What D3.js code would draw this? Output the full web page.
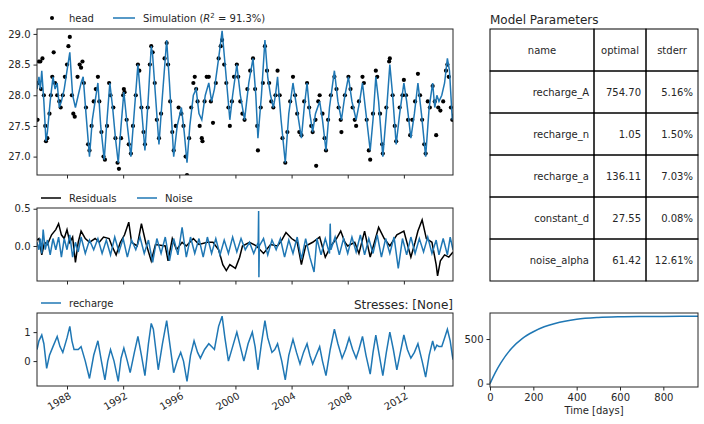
<!DOCTYPE html>
<html>
<head>
<meta charset="utf-8">
<script src="https://cdnjs.cloudflare.com/ajax/libs/d3/7.8.5/d3.min.js"></script>
<style>
  body { margin: 0; background: #fff; }
  text { font-family: "DejaVu Sans", sans-serif; fill: #262626; }
  .tick text { font-size: 10px; }
  .tick line { stroke: #262626; }
  .domain { stroke: #262626; }
</style>
</head>
<body>
<div id="chart"></div>
<script>
// observed heads [decimal year, head]
var heads = [
  [1985.9,27.6],[1985.95,28.2],[1986.0,28.55],[1986.1,28.55],[1986.15,28.1],[1986.25,28.6],[1986.35,28.0],[1986.45,27.5],[1986.5,27.25],[1986.6,27.3],
  [1986.75,27.7],[1986.85,28.0],[1986.95,28.3],[1987.05,28.7],[1987.15,28.2],[1987.3,28.0],[1987.45,27.9],[1987.55,27.8],[1987.7,28.0],[1987.85,28.3],
  [1988.0,28.5],[1988.1,28.8],[1988.2,28.95],[1988.35,28.0],[1988.45,27.7],[1988.55,27.65],[1988.75,28.3],[1988.9,28.5],[1989.0,28.45],[1989.1,28.55],
  [1989.2,28.2],[1989.35,27.8],[1989.5,27.2],[1989.6,27.1],[1989.75,27.5],[1989.9,27.9],[1990.05,28.1],[1990.2,28.3],[1990.3,27.9],[1990.45,27.4],
  [1990.6,27.0],[1990.7,26.95],[1990.85,27.5],[1991.0,28.2],[1991.1,28.0],[1991.3,27.8],[1991.45,27.3],[1991.6,26.9],[1991.7,26.8],[1991.85,27.3],
  [1992.0,28.0],[1992.05,28.1],[1992.1,28.05],[1992.25,27.6],[1992.4,27.2],[1992.55,27.05],[1992.7,27.5],[1992.9,28.0],[1993.05,28.5],[1993.15,28.4],
  [1993.3,27.8],[1993.45,27.4],[1993.55,27.2],[1993.75,27.8],[1993.9,28.5],[1994.0,28.8],[1994.1,28.7],[1994.25,28.2],[1994.4,27.6],[1994.55,27.3],
  [1994.7,27.7],[1994.95,28.6],[1995.1,28.85],[1995.2,28.5],[1995.35,27.9],[1995.5,27.4],[1995.6,27.1],[1995.75,27.5],[1995.95,27.8],[1996.15,27.7],
  [1996.3,27.5],[1996.45,27.0],[1996.55,26.7],[1996.7,27.3],[1996.85,27.8],[1997.0,28.2],[1997.1,28.3],[1997.2,28.1],[1997.3,27.9],[1997.45,27.5],
  [1997.6,27.3],[1997.65,27.25],[1997.8,27.9],[1997.95,28.3],[1998.1,28.3],[1998.25,27.9],[1998.4,27.55],[1998.6,28.2],[1998.8,28.6],[1998.95,28.8],
  [1999.05,28.9],[1999.2,28.5],[1999.35,28.2],[1999.5,27.8],[1999.6,27.5],[1999.75,27.9],[1999.9,28.3],[2000.1,28.5],[2000.2,28.3],[2000.35,27.9],
  [2000.5,27.7],[2000.65,27.6],[2000.85,28.1],[2001.05,28.4],[2001.25,28.6],[2001.4,28.1],[2001.55,27.5],[2001.6,27.1],[2001.8,27.8],[2001.95,28.2],
  [2002.1,28.8],[2002.25,28.4],[2002.4,28.2],[2002.55,27.9],[2002.7,27.8],[2002.85,28.0],[2003.0,28.4],[2003.15,28.0],[2003.35,27.3],[2003.55,26.9],
  [2003.7,27.4],[2003.9,27.9],[2004.1,28.3],[2004.25,28.0],[2004.4,27.7],[2004.55,27.4],[2004.7,27.35],[2004.9,27.9],[2005.1,28.2],[2005.25,27.8],
  [2005.4,27.5],[2005.5,27.4],[2005.7,27.6],[2005.75,26.85],[2005.9,27.9],[2006.0,28.0],[2006.2,27.7],[2006.35,27.3],[2006.45,27.1],[2006.6,27.6],
  [2006.8,28.0],[2007.05,28.3],[2007.2,28.1],[2007.35,27.8],[2007.5,27.6],[2007.55,27.4],[2007.8,28.0],[2008.05,28.3],[2008.2,28.1],[2008.35,27.8],
  [2008.5,27.6],[2008.6,27.5],[2008.8,27.9],[2009.05,28.3],[2009.15,28.2],[2009.35,27.6],[2009.5,27.1],[2009.6,26.95],[2009.8,27.7],[2010.0,28.4],
  [2010.1,28.3],[2010.3,27.7],[2010.45,27.2],[2010.5,27.05],[2010.75,27.8],[2010.95,28.55],[2011.0,28.6],[2011.2,28.0],[2011.35,27.5],[2011.45,27.25],
  [2011.7,27.8],[2011.9,28.0],[2012.0,28.25],[2012.15,28.0],[2012.3,27.6],[2012.45,27.35],[2012.6,27.6],[2012.8,27.9],[2013.0,28.35],[2013.15,28.0],
  [2013.3,27.6],[2013.45,27.2],[2013.55,27.05],[2013.7,27.9],[2013.85,27.8],[2014.05,28.15],[2014.2,27.9],[2014.3,27.35],[2014.45,27.8],[2014.6,27.75],
  [2014.8,27.9],[2015.0,28.4],[2015.1,28.5],[2015.2,28.3],[2015.35,27.8],[2015.45,27.6]
];

// simulated heads
var simulation = [
  [1985.86,28.1],[1986.0,28.3],[1986.1,28.1],[1986.2,28.4],[1986.35,27.9],[1986.5,27.25],[1986.6,27.4],[1986.8,27.9],[1987.0,28.3],[1987.15,28.1],
  [1987.3,28.2],[1987.45,27.8],[1987.6,27.9],[1987.8,28.1],[1988.0,28.4],[1988.2,28.7],[1988.4,28.0],[1988.6,27.8],[1988.8,28.0],[1989.0,28.2],
  [1989.15,28.3],[1989.35,27.7],[1989.6,27.0],[1989.8,27.6],[1990.0,27.9],[1990.2,28.2],[1990.4,27.5],[1990.65,26.95],[1990.85,27.6],[1991.05,28.2],
  [1991.25,27.8],[1991.45,27.3],[1991.65,26.9],[1991.85,27.5],[1992.05,28.05],[1992.25,27.6],[1992.55,27.0],[1992.75,27.6],[1993.05,28.5],[1993.3,27.8],
  [1993.55,27.1],[1993.8,28.0],[1994.0,28.8],[1994.1,28.65],[1994.3,28.0],[1994.55,27.2],[1994.8,28.0],[1995.1,28.9],[1995.3,28.2],[1995.6,27.0],
  [1995.85,27.5],[1996.15,27.8],[1996.35,27.4],[1996.55,26.9],[1996.75,27.5],[1997.0,28.0],[1997.2,28.1],[1997.4,27.7],[1997.6,27.6],[1997.85,28.0],
  [1998.1,28.2],[1998.3,27.9],[1998.5,28.1],[1998.8,28.6],[1999.05,29.05],[1999.3,28.4],[1999.6,27.6],[1999.8,28.0],[2000.1,28.5],[2000.35,28.0],
  [2000.65,27.6],[2000.95,28.2],[2001.25,28.6],[2001.45,28.0],[2001.6,27.3],[2001.85,28.0],[2002.1,28.9],[2002.3,28.3],[2002.5,28.0],[2002.7,27.8],
  [2002.85,28.0],[2003.0,28.3],[2003.25,27.6],[2003.55,26.9],[2003.8,27.7],[2004.1,28.2],[2004.3,27.9],[2004.5,27.6],[2004.7,27.3],[2004.9,27.8],
  [2005.1,28.2],[2005.3,27.7],[2005.5,27.4],[2005.7,27.7],[2006.0,27.9],[2006.2,27.6],[2006.45,27.1],[2006.7,27.8],[2007.05,28.4],[2007.3,27.9],
  [2007.55,27.6],[2007.8,28.0],[2008.05,28.3],[2008.3,27.9],[2008.6,27.6],[2008.85,27.9],[2009.05,28.2],[2009.3,27.7],[2009.6,27.1],[2009.8,27.6],
  [2010.0,28.3],[2010.2,27.9],[2010.5,27.0],[2010.75,27.7],[2011.0,28.5],[2011.2,28.0],[2011.45,27.2],[2011.7,27.7],[2012.0,28.2],[2012.2,27.9],
  [2012.5,27.3],[2012.75,27.7],[2013.0,28.2],[2013.25,27.7],[2013.55,27.0],[2013.8,27.8],[2014.05,28.2],[2014.2,27.8],[2014.35,28.0],[2014.5,27.9],
  [2014.7,28.0],[2014.9,28.2],[2015.1,28.6],[2015.25,28.4],[2015.45,27.6],[2015.5,27.7]
];

var residuals = [
  [1985.86,0.08],[1986.0,0.1],[1986.2,-0.12],[1986.4,0.05],[1986.6,0.02],[1986.9,0.15],[1987.2,0.22],[1987.4,0.3],[1987.6,0.15],[1987.8,0.1],
  [1988.0,0.22],[1988.2,0.05],[1988.4,0.12],[1988.6,-0.22],[1988.8,0.05],[1989.0,0.2],[1989.3,0.1],[1989.6,0.05],[1990.0,0.1],[1990.3,0.05],
  [1990.6,0.12],[1991.0,0.1],[1991.2,0.0],[1991.5,-0.12],[1991.8,0.05],[1992.1,0.15],[1992.4,0.32],[1992.6,0.05],[1993.0,0.0],[1993.3,0.3],
  [1993.6,0.05],[1994.0,-0.2],[1994.3,0.02],[1995.0,0.0],[1995.2,-0.2],[1995.5,0.1],[1995.8,-0.05],[1996.2,0.05],[1996.5,0.0],[1997.0,0.1],
  [1997.4,0.02],[1998.0,0.05],[1998.4,0.05],[1998.8,-0.05],[1999.1,-0.25],[1999.35,-0.33],[1999.6,-0.25],[2000.0,-0.3],[2000.3,-0.15],[2000.5,0.0],
  [2001.0,0.05],[2001.5,0.0],[2002.0,-0.1],[2002.5,0.02],[2003.0,0.0],[2003.3,0.08],[2003.6,0.18],[2004.0,0.1],[2004.4,0.05],[2004.7,-0.25],
  [2005.0,0.0],[2005.5,0.05],[2006.0,0.12],[2006.4,-0.15],[2006.8,0.0],[2007.2,0.1],[2007.5,0.2],[2007.8,0.05],[2008.0,0.0],[2008.5,0.05],
  [2008.8,-0.1],[2009.2,0.2],[2009.6,-0.15],[2009.9,0.05],[2010.2,0.25],[2010.6,0.1],[2011.0,0.0],[2011.5,0.15],[2012.0,0.2],[2012.5,-0.15],
  [2012.8,0.05],[2013.0,0.2],[2013.3,0.35],[2013.6,0.1],[2014.0,0.05],[2014.3,-0.25],[2014.4,-0.4],[2014.6,-0.2],[2014.9,-0.12],[2015.2,-0.15],[2015.5,-0.08]
];

var noise = [
  [1985.86,0.05],[1986.0,-0.05],[1986.1,0.1],[1986.2,-0.1],[1986.3,0.22],[1986.45,-0.05],[1986.6,0.08],[1986.8,-0.12],[1987.0,0.1],[1987.2,-0.05],
  [1987.4,0.12],[1987.6,-0.15],[1987.8,0.1],[1988.0,-0.05],[1988.2,0.15],[1988.4,-0.15],[1988.6,0.05],[1988.8,-0.08],[1989.0,0.12],[1989.3,-0.1],
  [1989.6,0.08],[1989.9,-0.05],[1990.2,0.1],[1990.5,-0.1],[1990.8,0.08],[1991.1,-0.12],[1991.4,0.12],[1991.7,-0.08],[1992.0,0.1],[1992.3,-0.15],
  [1992.6,0.08],[1992.9,-0.05],[1993.2,0.12],[1993.5,-0.1],[1993.8,0.08],[1994.1,-0.22],[1994.4,0.1],[1994.7,-0.1],[1995.0,0.12],[1995.3,-0.2],
  [1995.6,0.1],[1995.9,-0.12],[1996.2,0.25],[1996.5,-0.15],[1996.8,0.12],[1997.1,-0.1],[1997.4,0.1],[1997.7,-0.15],[1998.0,0.12],[1998.3,-0.1],
  [1998.6,0.1],[1998.9,-0.12],[1999.2,0.08],[1999.5,-0.1],[1999.8,0.12],[2000.1,-0.08],[2000.4,0.1],[2000.7,-0.05],[2001.0,0.05],[2001.3,-0.1],
  [2001.62,0.05],[2001.65,0.47],[2001.67,-0.42],[2001.7,0.0],[2002.0,0.1],[2002.3,-0.12],[2002.6,0.08],[2002.9,-0.05],[2003.2,0.1],[2003.5,-0.15],
  [2003.8,0.08],[2004.1,-0.1],[2004.4,0.12],[2004.7,-0.18],[2005.0,0.1],[2005.3,-0.15],[2005.6,-0.35],[2005.8,0.1],[2006.1,-0.12],[2006.4,0.1],
  [2006.7,-0.1],[2006.75,0.3],[2006.8,-0.05],[2007.1,0.12],[2007.4,-0.12],[2007.7,0.1],[2008.0,-0.1],[2008.3,0.12],[2008.6,-0.08],[2008.9,0.15],
  [2009.2,-0.12],[2009.5,0.1],[2009.8,-0.1],[2010.1,0.15],[2010.4,-0.15],[2010.7,0.1],[2011.0,-0.1],[2011.3,0.12],[2011.6,-0.3],[2011.9,0.1],
  [2012.2,-0.12],[2012.5,0.12],[2012.8,-0.1],[2013.1,0.1],[2013.4,-0.08],[2013.7,0.12],[2014.0,-0.1],[2014.3,0.08],[2014.5,-0.12],[2014.8,0.1],
  [2015.1,-0.12],[2015.3,0.12],[2015.5,-0.05]
];

var recharge = [
  [1985.86,0.4],[1986.0,0.7],[1986.2,0.9],[1986.35,0.6],[1986.55,-0.25],[1986.75,0.2],[1987.0,0.5],[1987.3,0.85],[1987.5,0.5],[1987.7,0.3],
  [1988.0,0.8],[1988.2,1.2],[1988.35,0.7],[1988.5,0.4],[1988.8,0.4],[1989.0,0.5],[1989.3,0.0],[1989.6,-0.6],[1989.9,0.2],[1990.2,0.7],
  [1990.45,0.0],[1990.7,-0.65],[1990.9,0.0],[1991.1,0.4],[1991.35,0.0],[1991.65,-0.7],[1991.85,0.1],[1992.05,0.45],[1992.3,0.0],[1992.5,-0.4],
  [1992.8,0.3],[1993.05,0.85],[1993.3,0.2],[1993.55,-0.5],[1993.8,0.6],[1994.0,1.3],[1994.15,1.1],[1994.5,-0.3],[1994.8,0.6],[1995.1,1.4],
  [1995.35,0.5],[1995.6,-0.4],[1995.85,0.0],[1996.1,0.3],[1996.3,0.0],[1996.55,-0.7],[1996.8,0.2],[1997.05,0.7],[1997.3,0.3],[1997.5,0.1],
  [1997.8,0.4],[1998.1,0.6],[1998.3,0.5],[1998.5,0.4],[1998.8,1.2],[1999.05,1.55],[1999.25,0.8],[1999.5,0.0],[1999.8,0.5],[2000.1,1.0],
  [2000.35,0.5],[2000.6,0.0],[2000.9,0.6],[2001.2,1.0],[2001.4,0.5],[2001.6,-0.3],[2001.85,0.6],[2002.1,1.4],[2002.3,0.8],[2002.6,0.3],
  [2002.8,0.4],[2003.0,0.6],[2003.3,0.0],[2003.55,-0.65],[2003.8,0.2],[2004.1,0.75],[2004.35,0.3],[2004.6,-0.1],[2004.85,0.3],[2005.1,0.6],
  [2005.3,0.2],[2005.5,-0.1],[2005.75,0.2],[2006.0,0.5],[2006.2,0.0],[2006.45,-0.5],[2006.75,0.4],[2007.05,1.1],[2007.3,0.6],[2007.6,0.1],
  [2007.85,0.4],[2008.1,0.8],[2008.35,0.4],[2008.6,0.1],[2008.8,0.4],[2009.05,0.85],[2009.3,0.2],[2009.6,-0.45],[2009.8,0.3],[2010.0,0.9],
  [2010.25,0.2],[2010.5,-0.5],[2010.75,0.3],[2011.0,1.0],[2011.25,0.4],[2011.5,-0.3],[2011.75,0.3],[2012.0,0.9],[2012.25,0.4],[2012.5,0.1],
  [2012.75,0.3],[2013.0,0.6],[2013.3,0.0],[2013.55,-0.55],[2013.8,0.2],[2014.05,0.7],[2014.2,0.4],[2014.35,0.55],[2014.5,0.5],[2014.7,0.5],
  [2014.9,0.8],[2015.1,1.1],[2015.3,0.7],[2015.45,0.2],[2015.5,0.05]
];

var yearTicks = [1988, 1992, 1996, 2000, 2004, 2008, 2012];

// step response of recharge [days, value]
var stepDays = [0, 25, 50, 100, 150, 200, 250, 300, 400, 500, 600, 700, 800, 960];
var stepVals = [0, 126, 232, 397, 508, 582, 637, 675, 722, 742, 750, 753, 754, 754.7];

var paramNames = ["recharge_A", "recharge_n", "recharge_a", "constant_d", "noise_alpha"];
var paramOptimal = ["754.70", "1.05", "136.11", "27.55", "61.42"];
var paramStderr = ["5.16%", "1.50%", "7.03%", "0.08%", "12.61%"];

var blue = "#1f77b4";

function toDate(y) {
  var yr = Math.floor(y);
  var start = new Date(yr, 0, 1);
  return new Date(start.getTime() + (y - yr) * 365.25 * 86400000);
}

var svg = d3.select("#chart").append("svg")
  .attr("width", 704).attr("height", 424);

var x = d3.scaleTime()
  .domain([toDate(1985.86), toDate(2015.5)])
  .range([37, 453]);

function frame(g, top, bottom) {
  g.append("rect").attr("x", 37).attr("y", top)
    .attr("width", 416).attr("height", bottom - top)
    .attr("fill", "none").attr("stroke", "#262626").attr("stroke-width", 1);
}

function xAxis(top, bottom, labels) {
  var ax = svg.append("g").attr("transform", `translate(0,${bottom})`)
    .call(d3.axisBottom(x).tickValues(yearTicks.map(d => new Date(d, 0, 1)))
      .tickSize(3.5).tickFormat(labels ? d3.timeFormat("%Y") : ""));
  ax.select(".domain").remove();
  if (labels) {
    ax.selectAll("text").attr("transform", "rotate(-30)")
      .attr("text-anchor", "end").attr("dx", "-0.2em").attr("dy", "0.6em");
  }
}

function clip(id, top, bottom) {
  svg.append("clipPath").attr("id", id).append("rect")
    .attr("x", 37).attr("y", top).attr("width", 416).attr("height", bottom - top);
}

// top panel: heads and simulation
var y1 = d3.scaleLinear().domain([26.7, 29.08]).range([175, 29]);
clip("c1", 29, 175);
var p1 = svg.append("g").attr("clip-path", "url(#c1)");
p1.selectAll("circle").data(heads).enter().append("circle")
  .attr("cx", d => x(toDate(d[0]))).attr("cy", d => y1(d[1]))
  .attr("r", 2.1).attr("fill", "#000");
p1.append("path").datum(simulation)
  .attr("d", d3.line().x(d => x(toDate(d[0]))).y(d => y1(d[1])))
  .attr("fill", "none").attr("stroke", blue).attr("stroke-width", 1.5);
frame(svg, 29, 175);
svg.append("g").attr("transform", "translate(37,0)")
  .call(d3.axisLeft(y1).tickValues([27, 27.5, 28, 28.5, 29]).tickFormat(d3.format(".1f")).tickSize(3.5))
  .select(".domain").remove();
xAxis(29, 175, false);
// legend
svg.append("circle").attr("cx", 52).attr("cy", 18).attr("r", 2).attr("fill", "#000");
svg.append("text").attr("x", 69).attr("y", 22).attr("font-size", 10).text("head");
svg.append("line").attr("x1", 113).attr("x2", 135).attr("y1", 18).attr("y2", 18).attr("stroke", blue).attr("stroke-width", 1.5);
var simText = svg.append("text").attr("x", 143).attr("y", 22).attr("font-size", 10);
simText.append("tspan").text("Simulation (");
simText.append("tspan").attr("font-style", "italic").text("R");
simText.append("tspan").attr("font-size", 7).attr("dy", -4).text("2");
simText.append("tspan").attr("dy", 4).text(" = 91.3%)");

// residual panel
var y2 = d3.scaleLinear().domain([-0.47, 0.51]).range([281, 208]);
clip("c2", 208, 281);
var p2 = svg.append("g").attr("clip-path", "url(#c2)");
p2.append("path").datum(residuals)
  .attr("d", d3.line().x(d => x(toDate(d[0]))).y(d => y2(d[1])))
  .attr("fill", "none").attr("stroke", "#000").attr("stroke-width", 1.5);
p2.append("path").datum(noise)
  .attr("d", d3.line().x(d => x(toDate(d[0]))).y(d => y2(d[1])))
  .attr("fill", "none").attr("stroke", blue).attr("stroke-width", 1.5);
frame(svg, 208, 281);
svg.append("g").attr("transform", "translate(37,0)")
  .call(d3.axisLeft(y2).tickValues([0, 0.5]).tickFormat(d3.format(".1f")).tickSize(3.5))
  .select(".domain").remove();
xAxis(208, 281, false);
svg.append("line").attr("x1", 41).attr("x2", 61).attr("y1", 198).attr("y2", 198).attr("stroke", "#000").attr("stroke-width", 1.5);
svg.append("text").attr("x", 69).attr("y", 202).attr("font-size", 10).text("Residuals");
svg.append("line").attr("x1", 137).attr("x2", 157).attr("y1", 198).attr("y2", 198).attr("stroke", blue).attr("stroke-width", 1.5);
svg.append("text").attr("x", 165).attr("y", 202).attr("font-size", 10).text("Noise");

// recharge panel
var y3 = d3.scaleLinear().domain([-0.86, 1.66]).range([386, 313]);
clip("c3", 313, 386);
var p3 = svg.append("g").attr("clip-path", "url(#c3)");
p3.append("path").datum(recharge)
  .attr("d", d3.line().x(d => x(toDate(d[0]))).y(d => y3(d[1])))
  .attr("fill", "none").attr("stroke", blue).attr("stroke-width", 1.5);
frame(svg, 313, 386);
svg.append("g").attr("transform", "translate(37,0)")
  .call(d3.axisLeft(y3).tickValues([0, 1]).tickFormat(d3.format("d")).tickSize(3.5))
  .select(".domain").remove();
xAxis(313, 386, true);
svg.append("line").attr("x1", 41).attr("x2", 61).attr("y1", 303).attr("y2", 303).attr("stroke", blue).attr("stroke-width", 1.5);
svg.append("text").attr("x", 69).attr("y", 307).attr("font-size", 10).text("recharge");
svg.append("text").attr("x", 453).attr("y", 309).attr("font-size", 12).attr("text-anchor", "end").text("Stresses: [None]");

// step response
var sx = d3.scaleLinear().domain([0, 960]).range([490, 698]);
var sy = d3.scaleLinear().domain([-37.7, 792]).range([387, 313]);
svg.append("path").datum(d3.zip(stepDays, stepVals))
  .attr("d", d3.line().curve(d3.curveMonotoneX).x(d => sx(d[0])).y(d => sy(d[1])))
  .attr("fill", "none").attr("stroke", blue).attr("stroke-width", 1.5);
svg.append("rect").attr("x", 490).attr("y", 313).attr("width", 208).attr("height", 74)
  .attr("fill", "none").attr("stroke", "#262626");
svg.append("g").attr("transform", "translate(490,0)")
  .call(d3.axisLeft(sy).tickValues([0, 500]).tickSize(3.5))
  .select(".domain").remove();
svg.append("g").attr("transform", "translate(0,387)")
  .call(d3.axisBottom(sx).tickValues([0, 200, 400, 600, 800]).tickSize(3.5))
  .select(".domain").remove();
svg.append("text").attr("x", 594).attr("y", 414).attr("font-size", 10).attr("text-anchor", "middle").text("Time [days]");

// parameter table
svg.append("text").attr("x", 490).attr("y", 24).attr("font-size", 12).text("Model Parameters");
var colX = [490, 594, 646, 698];
var rowH = 42, tableTop = 29;
var rows = [["name", "optimal", "stderr"]].concat(paramNames.map((n, i) => [n, paramOptimal[i], paramStderr[i]]));
var table = svg.append("g");
rows.forEach(function(r, i) {
  r.forEach(function(v, j) {
    table.append("rect").attr("x", colX[j]).attr("y", tableTop + i * rowH)
      .attr("width", colX[j + 1] - colX[j]).attr("height", rowH)
      .attr("fill", "none").attr("stroke", "#000").attr("stroke-width", 1);
    var t = table.append("text").attr("y", tableTop + i * rowH + rowH / 2 + 3.5).attr("font-size", 10).text(v);
    if (i === 0) t.attr("x", (colX[j] + colX[j + 1]) / 2).attr("text-anchor", "middle");
    else t.attr("x", colX[j + 1] - 5).attr("text-anchor", "end");
  });
});
</script>
</body>
</html>
